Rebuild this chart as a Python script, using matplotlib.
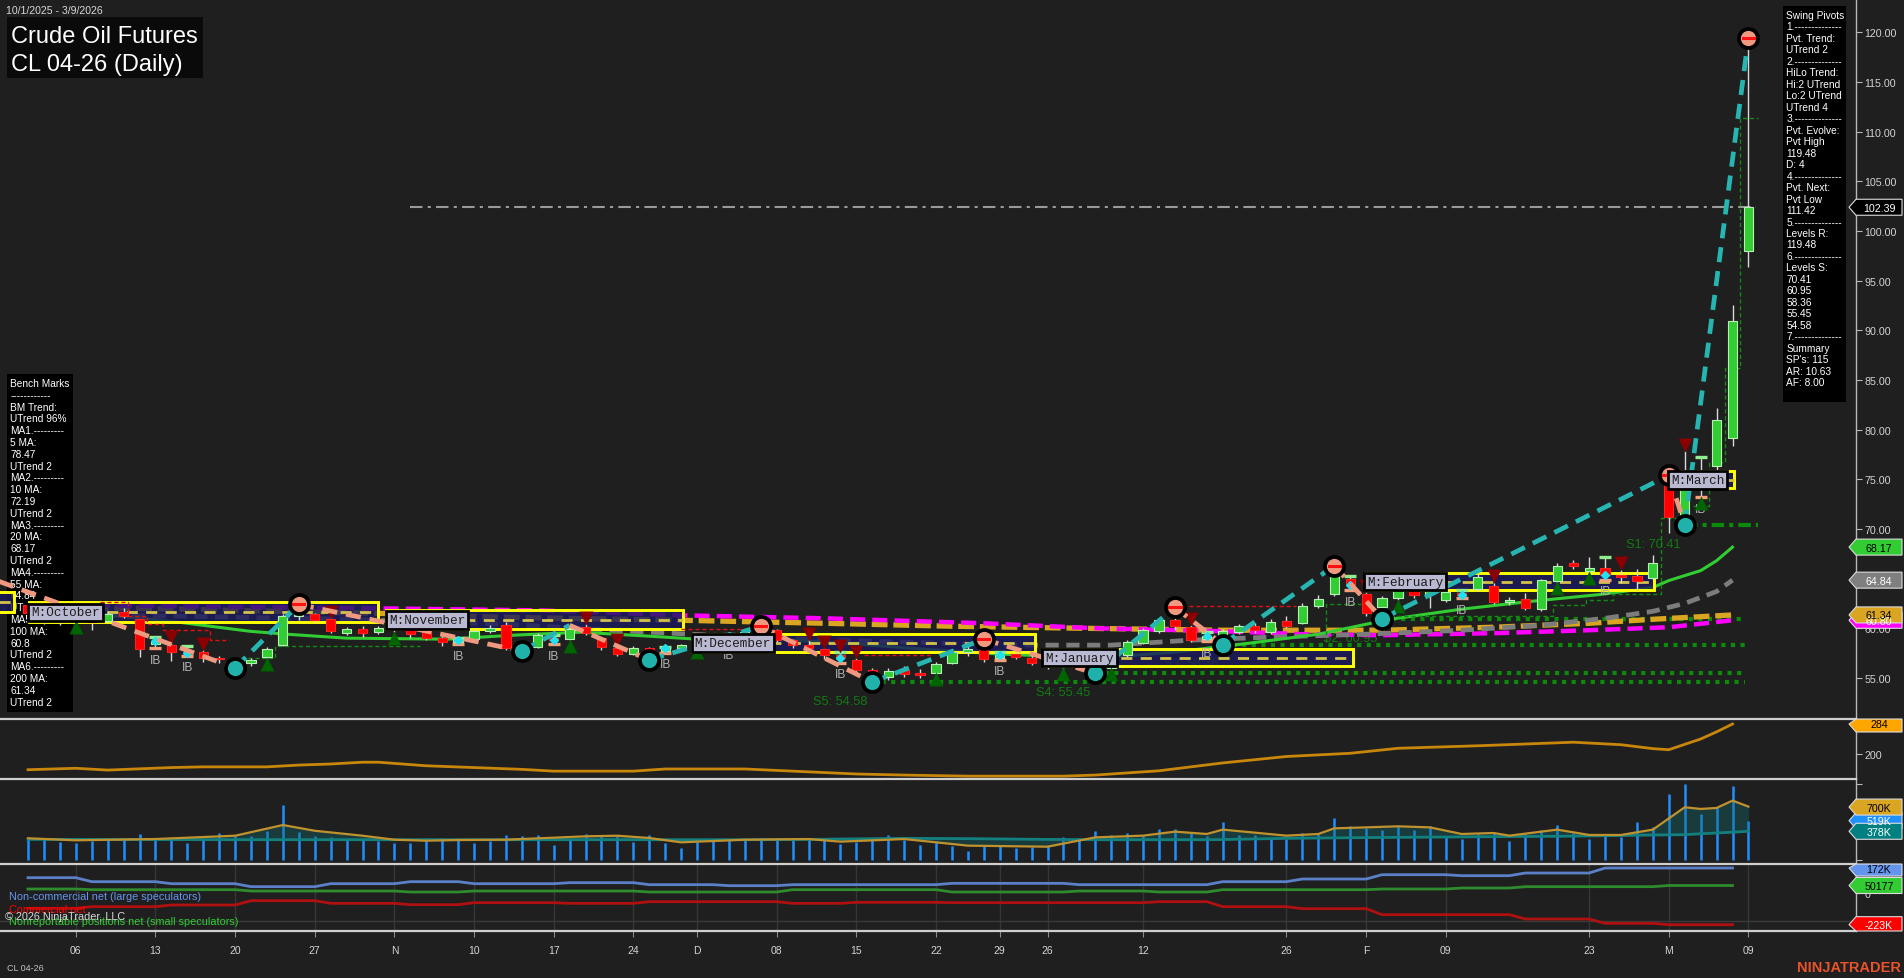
import numpy as np
import matplotlib
matplotlib.use('Agg')
import matplotlib.pyplot as plt
from matplotlib.patches import Rectangle, Polygon
from matplotlib.transforms import Affine2D

plt.rcParams['font.family'] = ['Liberation Sans', 'DejaVu Sans']

W, H = 1904, 979
BG = '#1f1f1f'

# ---------------- data ----------------
opens = [62.3, 61.5, 60.7, 61.0, 60.9, 60.7, 61.6, 60.9, 58.4, 58.3, 57.6, 57.6, 57.0, 56.9, 56.5, 57.1, 58.3, 61.2,
         61.4, 60.9, 59.5, 59.9, 59.6, 60.0, 60.1, 59.8, 59.0, 58.6, 58.9, 59.7, 60.3, 58.0, 58.1, 59.0, 58.9, 60.1,
         59.0, 58.0, 57.4, 58.0, 57.7, 58.0, 58.4, 59.0, 58.6, 59.2, 59.6, 59.8, 58.8, 58.3, 57.9, 57.3, 56.8, 55.8,
         55.1, 55.8, 55.5, 55.5, 56.5, 57.6, 57.9, 57.0, 57.4, 57.0, 56.6, 56.4, 56.9, 56.0, 56.0, 57.3, 58.5, 59.7,
         60.8, 60.1, 58.9, 59.0, 59.6, 60.2, 59.6, 60.7, 60.5, 62.2, 63.4, 65.0, 63.4, 62.1, 63.0, 64.3, 63.4, 62.8,
         63.5, 63.9, 64.3, 62.6, 62.9, 61.9, 64.8, 66.6, 65.8, 66.1, 65.4, 65.3, 65.1, 75.4, 71.0, 74.6, 76.3, 79.2, 98.0]
highs = [62.6, 61.8, 61.4, 61.6, 61.3, 61.7, 62.0, 60.9, 59.1, 58.5, 58.2, 57.8, 57.2, 57.1, 57.0, 58.1, 61.4, 62.4,
         61.5, 61.0, 60.1, 60.2, 60.2, 60.4, 60.2, 60.2, 59.4, 59.0, 59.9, 60.3, 60.6, 58.4, 59.5, 59.3, 60.3, 60.4,
         59.1, 58.2, 58.2, 58.1, 58.1, 58.4, 59.2, 59.3, 59.4, 59.9, 60.2, 59.9, 58.9, 58.8, 58.0, 57.6, 57.0, 56.0,
         56.0, 56.2, 55.9, 56.6, 57.9, 58.2, 58.9, 57.6, 57.8, 57.3, 57.0, 57.2, 57.1, 56.4, 57.5, 58.8, 60.0, 61.0,
         62.1, 60.3, 59.6, 59.9, 60.4, 60.5, 60.9, 61.2, 62.5, 63.3, 66.3, 65.3, 63.6, 63.2, 64.8, 64.6, 64.0, 63.9,
         63.8, 65.5, 64.6, 63.1, 63.5, 65.0, 66.6, 66.9, 67.2, 67.2, 65.9, 66.0, 67.4, 75.8, 77.8, 77.2, 82.2, 92.5,
         119.48]
lows = [61.2, 60.4, 60.3, 60.7, 59.8, 60.6, 61.0, 57.1, 58.0, 56.7, 57.2, 56.6, 56.5, 56.0, 56.2, 56.9, 58.2, 60.8,
        60.6, 59.5, 59.3, 59.1, 59.4, 59.6, 59.0, 58.8, 58.2, 58.4, 58.8, 59.5, 57.8, 57.7, 58.0, 58.4, 58.8, 59.3,
        57.8, 57.2, 57.3, 56.8, 57.5, 57.8, 58.2, 58.3, 58.5, 59.0, 59.4, 58.6, 58.0, 57.6, 56.9, 56.5, 55.6, 54.58,
        54.8, 55.1, 55.0, 55.4, 56.4, 57.2, 56.6, 56.8, 56.9, 56.3, 55.9, 55.9, 55.8, 55.45, 55.9, 57.1, 58.4, 59.5,
        59.8, 58.6, 58.7, 58.36, 59.4, 59.5, 59.4, 60.0, 60.4, 62.0, 63.2, 63.8, 61.2, 60.95, 62.8, 63.0, 62.0, 62.6,
        63.0, 63.7, 62.4, 62.3, 61.8, 61.7, 64.6, 66.0, 65.6, 64.9, 64.6, 63.8, 64.9, 69.6, 70.41, 73.2, 75.8, 78.3,
        96.4]
closes = [61.5, 60.7, 60.9, 61.3, 60.6, 61.4, 61.2, 57.9, 58.7, 57.6, 57.5, 57.0, 56.9, 56.5, 56.8, 57.9, 61.2, 61.5,
          60.8, 59.7, 59.9, 59.5, 60.0, 60.1, 59.4, 59.0, 58.6, 58.8, 59.7, 60.0, 58.0, 58.1, 59.3, 58.8, 59.9, 59.5,
          58.1, 57.4, 58.0, 57.5, 58.0, 58.3, 59.0, 58.5, 59.2, 59.6, 59.9, 58.8, 58.3, 58.0, 57.3, 57.0, 55.8, 55.2,
          55.7, 55.4, 55.3, 56.4, 57.6, 57.9, 56.9, 57.3, 57.1, 56.5, 56.2, 56.9, 56.0, 55.9, 57.3, 58.6, 59.8, 60.8,
          60.2, 58.8, 59.2, 59.7, 60.2, 59.8, 60.6, 60.2, 62.2, 62.9, 65.3, 64.4, 61.5, 63.0, 64.5, 63.3, 63.7, 63.6,
          63.3, 65.2, 62.6, 62.8, 62.0, 64.9, 66.3, 66.3, 66.1, 65.4, 65.2, 64.8, 66.6, 71.2, 74.5, 74.9, 81.0, 90.9,
          102.39]

# x tick labels (bar index of first bar of each labelled period)
tick_idx = [3, 8, 13, 18, 23, 28, 33, 38, 42, 47, 52, 57, 61, 64, 70, 79, 84, 89, 98, 103, 108]
tick_lbl = ['06', '13', '20', '27', 'N', '10', '17', '24', 'D', '08', '15', '22', '29', '26', '12', '26', 'F', '09',
            '23', 'M', '09']

# moving averages (knots: bar index, value)
ma20_idx = [0, 4.7, 9.5, 13.9, 16.2, 20, 26.3, 30.5, 34.7, 39, 42, 47, 52, 57, 61, 64, 68, 72, 76.7, 81, 85.5, 89.9,
            94.3, 98.7, 102, 103, 105, 106, 107]
ma20_val = [62.0, 61.4, 60.6, 59.7, 59.4, 59.0, 58.9, 59.3, 59.6, 59.2, 58.9, 58.9, 58.4, 57.8, 57.4, 57.2, 57.1, 57.6,
            58.5, 59.4, 60.9, 61.9, 62.7, 63.4, 64.1, 64.8, 65.8, 66.8, 68.17]
ma55_idx = [0, 10, 20, 30, 39, 47, 55, 62, 68, 73, 78, 84, 90, 95, 99, 102, 104, 106, 107]
ma55_val = [61.4, 61.2, 60.9, 60.4, 59.6, 59.0, 58.6, 58.3, 58.3, 58.8, 59.1, 59.4, 59.8, 60.3, 61.0, 61.7, 62.5,
            63.7, 64.84]
ma100_idx = [0, 10, 22, 32, 41, 50, 60, 67, 75, 80, 85, 92, 98, 103, 107]
ma100_val = [62.4, 62.2, 62.0, 61.8, 61.3, 61.0, 60.5, 60.0, 59.7, 59.4, 59.3, 59.5, 59.8, 60.1, 60.8]
ma200_idx = [0, 10, 22, 30, 41, 50, 58, 66, 75, 85, 92, 98, 102, 107]
ma200_val = [62.2, 61.9, 61.5, 61.1, 60.8, 60.5, 60.2, 60.0, 59.8, 59.8, 60.1, 60.5, 60.9, 61.34]

# swing pivots (first point is the prior high off the left edge)
sw_idx = [-4, 13, 17, 31, 34, 39, 46, 53, 60, 67, 72, 75, 82, 85, 103, 104, 108]
sw_val = [66.0, 56.0, 62.4, 57.7, 60.3, 56.8, 60.2, 54.58, 58.9, 55.45, 62.1, 58.36, 66.3, 60.95, 75.4, 70.41, 119.48]
sw_marked = [False, True, True, True, False, True, True, True, True, True, True, True, True, True, True, True, True]

up_tri_idx = [3, 15, 23, 34, 42, 57, 65, 68, 86, 96, 98, 105, 106]
dn_tri_idx = [9, 11, 19, 35, 37, 49, 50, 51, 52, 73, 84, 92, 100, 104]
ib_idx = [8, 10, 27, 33, 40, 44, 51, 61, 74, 83, 90, 99, 105]

# support levels
s_names = ['S5', 'S4', 'S3', 'S2', 'S1']
s_vals = [54.58, 55.45, 58.36, 60.95, 70.41]
s_from = [53, 67, 75, 85, 104]

# monthly boxes
month_lbl = ['', 'M:October', 'M:November', 'M:December', 'M:January', 'M:February', 'M:March']
box_start = [-30, 0.05, 22.5, 41.7, 63.7, 83.9, 103.0]
box_end = [-0.9, 22.0, 41.1, 63.2, 83.2, 102.1, 107.1]
box_top = [63.6, 62.6, 61.8, 59.4, 57.9, 65.6, 75.8]
box_bot = [61.6, 60.6, 59.9, 57.6, 56.2, 63.8, 74.1]

# trailing stop step lines
red_stops = [
    ([4.5, 6.3, 6.3, 7.5, 7.5, 8.5, 8.5, 11.4, 11.4, 12.6], [62.6, 62.6, 61.2, 61.2, 60.4, 60.4, 59.8, 59.8, 58.8, 58.8]),
    ([41, 46], [59.9, 59.9]),
    ([52.5, 56.6], [57.3, 57.3]),
    ([72, 79.6], [62.2, 62.2]),
]
green_stops = [
    ([13.4, 15.5, 15.5, 24.6], [57.0, 57.0, 58.2, 58.2]),
    ([81.5, 81.5, 83.7], [58.6, 62.4, 62.4]),
    ([85.5, 95.7, 95.7, 97.8, 97.8, 99.5, 99.5, 102.5, 102.5, 102.5, 104.0],
     [61.2, 61.2, 62.3, 62.3, 62.8, 62.8, 63.4, 63.4, 63.4, 71.1, 71.1]),
    ([104.5, 105.5, 105.5, 106.5, 106.5, 107.5, 107.5, 108.6], [72.3, 72.3, 76.7, 76.7, 86.2, 86.2, 111.42, 111.42]),
]

# ATR-type line
atr_idx = [0, 3, 5, 9, 11, 15, 17, 19, 21, 22, 25, 28, 31, 33, 38, 40, 45, 49, 52, 55, 59, 65, 67, 71, 75, 79, 83,
           86, 91, 97, 100, 102, 103, 105, 106, 107]
atr_val = [156, 160, 155, 162, 164, 164, 169, 172, 177, 177, 167, 162, 157, 152, 152, 158, 158, 150, 144, 141, 138,
           138, 141, 153, 175, 193, 202, 216, 223, 233, 226, 215, 212, 242, 262, 284]

# volume (thousands)
volume = [285, 285, 240, 222, 253, 285, 266, 342, 280, 266, 222, 266, 355, 319, 319, 382, 728, 373, 319, 302,
          280, 258, 253, 222, 222, 293, 285, 266, 222, 253, 329, 319, 329, 196, 280, 342, 329, 333, 240, 329,
          222, 160, 240, 248, 266, 266, 258, 266, 266, 293, 266, 213, 240, 293, 329,
          266, 196, 231, 187, 120, 182, 187, 151, 165, 196, 306, 293, 382, 333, 351, 311, 408, 408, 364, 320,
          501, 333, 329, 293, 275, 355, 346, 555, 453, 423, 391, 448, 391, 448, 306, 275, 342, 364, 244, 355,
          399, 466, 355, 275, 320, 302, 501, 440, 874, 1007, 608, 697, 980, 519]
vma_idx = [0, 3, 8, 13, 16, 18, 21, 23, 25, 27, 30, 35, 37, 39, 41, 45, 49, 51, 55, 59, 64, 67, 70, 72, 74, 75, 79,
           81, 82, 84, 86, 88, 90, 92, 93, 96, 98, 100, 102, 104, 105, 106, 107, 108]
vma_fast = [285, 258, 275, 319, 461, 385, 319, 266, 253, 262, 266, 311, 319, 289, 231, 266, 275, 240, 275, 187, 173,
            297, 320, 373, 342, 400, 320, 342, 417, 430, 444, 430, 342, 355, 320, 400, 329, 329, 400, 697, 675, 688,
            786, 706]
vma_slow = [270, 270, 268, 266, 266, 266, 266, 266, 266, 266, 266, 266, 266, 266, 266, 266, 270, 275, 284, 280, 270,
            266, 266, 266, 266, 268, 284, 288, 290, 294, 297, 300, 303, 306, 308, 311, 316, 322, 328, 333, 345, 355,
            366, 378]

# COT net positions (thousands), one value per bar up to Mar 6
cot_large = [104.6] * 4 + [76.8] * 5 + [62.8] * 5 + [42.0] * 5 + [62.8] * 5 + [76.8] * 4 + [62.8] * 6 + \
            [69.8] * 5 + [55.9] * 5 + [48.9] * 4 + [55.9] * 10 + [65.2] * 8 + [55.9] * 9 + [76.8] * 5 + \
            [95.3] * 5 + [125.5] * 5 + [118.6] * 4 + [137.2] * 5 + [172.0] * 9
cot_small = [25.7] * 4 + [21.0] * 10 + [11.7] * 10 + [4.8] * 4 + [11.7] * 11 + [4.8] * 9 + [21.0] * 10 + \
            [4.8] * 8 + [11.7] * 5 + [4.8] * 4 + [21.0] * 10 + [25.7] * 5 + [32.6] * 4 + [42.0] * 9 + [50.2] * 5
cot_comm = [-109.0] * 4 + [-97.5] * 5 + [-85.8] * 5 + [-55.7] * 5 + [-74.2] * 5 + [-83.5] * 4 + [-69.6] * 6 + \
           [-74.2] * 5 + [-62.6] * 9 + [-74.2] * 4 + [-67.2] * 6 + [-69.6] * 13 + [-62.6] * 4 + [-97.5] * 5 + \
           [-111.4] * 5 + [-153.2] * 9 + [-183.4] * 5 + [-213.6] * 4 + [-223.0] * 5

bench_lines = ["Bench Marks", "------------", "BM Trend:", "UTrend 96%", "MA1.---------", "5 MA:", "78.47",
               "UTrend 2", "MA2.---------", "10 MA:", "72.19", "UTrend 2", "MA3.---------", "20 MA:", "68.17",
               "UTrend 2", "MA4.---------", "55 MA:", "64.84", "UTrend 2", "MA5.---------", "100 MA:", "60.8",
               "UTrend 2", "MA6.---------", "200 MA:", "61.34", "UTrend 2"]
swing_lines = ["Swing Pivots", "1.--------------", "Pvt. Trend:", "UTrend 2", "2.--------------", "HiLo Trend:",
               "Hi:2 UTrend", "Lo:2 UTrend", "UTrend 4", "3.--------------", "Pvt. Evolve:", "Pvt High", "119.48",
               "D: 4", "4.--------------", "Pvt. Next:", "Pvt Low", "111.42", "5.--------------", "Levels R:",
               "119.48", "6.--------------", "Levels S:", "70.41", "60.95", "58.36", "55.45", "54.58",
               "7.--------------", "Summary", "SP's: 115", "AR: 10.63", "AF: 8.00"]

last_price = 102.39

# ---------------- figure ----------------
fig = plt.figure(figsize=(W / 100, H / 100), dpi=100, facecolor=BG)
PX = Affine2D().scale(1 / W, -1 / H).translate(0, 1) + fig.transFigure

AX_RIGHT = 1856
X0, DX = 28.0, 15.93
XMIN, XMAX = (0 - X0) / DX, (AX_RIGHT - X0) / DX


def make_ax(top, bottom):
    a = fig.add_axes([0, 1 - bottom / H, AX_RIGHT / W, (bottom - top) / H])
    a.set_facecolor(BG)
    a.set_xlim(XMIN, XMAX)
    for s in ['left', 'bottom', 'top']:
        a.spines[s].set_visible(False)
    a.spines['right'].set_color('#b8b8b8')
    a.spines['right'].set_linewidth(1)
    a.yaxis.tick_right()
    a.tick_params(axis='y', colors='#b8b8b8', labelcolor='#d4d4d4', labelsize=7.7, length=4, pad=2)
    a.set_xticks([])
    return a


ax = make_ax(0, 720)
ax_atr = make_ax(720, 780)
ax_vol = make_ax(780, 865)
ax_cot = make_ax(865, 932)
for a in (ax_atr, ax_vol, ax_cot):
    a.spines['top'].set_visible(True)
    a.spines['top'].set_color('#cfcfcf')
    a.spines['top'].set_linewidth(1.6)
ax_cot.spines['bottom'].set_visible(True)
ax_cot.spines['bottom'].set_color('#cfcfcf')
ax_cot.spines['bottom'].set_linewidth(1.6)

ax.set_ylim(50.86, 123.36)
ax.set_yticks(np.arange(55, 121, 5))
ax.set_yticklabels([f"{v:.2f}" for v in np.arange(55, 121, 5)])
ax_atr.set_ylim(130, 298)
ax_atr.set_yticks([200])
ax_atr.set_yticklabels(['200'])
ax_vol.set_ylim(-57, 1073)
ax_vol.set_yticks([0, 1000])
ax_vol.set_yticklabels(['', ''])
ax_cot.set_ylim(-267, 200)
ax_cot.set_yticks([0])
ax_cot.set_yticklabels(['0'])

# ---------------- side panels (under chart drawings) ----------------
ax.add_patch(Rectangle((7, 375), 66, 338, transform=PX, facecolor='#000000', edgecolor='none', zorder=1.2,
                       clip_on=False))
for k, t in enumerate(bench_lines):
    ax.text(10.5, 384 + k * 11.8, t, transform=PX, color='white', fontsize=7.3, va='center', ha='left',
            zorder=1.3, clip_on=False)
ax.add_patch(Rectangle((1783, 7), 63, 396, transform=PX, facecolor='#000000', edgecolor='none', zorder=1.2,
                       clip_on=False))
for k, t in enumerate(swing_lines):
    ax.text(1786.5, 15.7 + k * 11.49, t, transform=PX, color='white', fontsize=7.3, va='center', ha='left',
            zorder=1.3, clip_on=False)

# ---------------- main price panel ----------------
xi = np.arange(len(opens))
O, Hh, L, C = map(np.asarray, (opens, highs, lows, closes))

# moving averages
ax.plot(ma200_idx, ma200_val, color='#daa520', lw=3.8, ls=(0, (3.0, 1.1)), zorder=2.2)
ax.plot(ma100_idx, ma100_val, color='#ff00ff', lw=3.2, ls=(0, (3.4, 1.6)), zorder=2.3)
ax.plot(ma55_idx, ma55_val, color='#7c7c7c', lw=3.4, ls=(0, (2.8, 1.6)), zorder=2.4)
ax.plot(ma20_idx, ma20_val, color='#32cd32', lw=2.2, zorder=2.5)

# support dotted lines
for nm, v, s in zip(s_names, s_vals, s_from):
    if nm == 'S1':
        ax.plot([s, 108.6], [v, v], color='#0b8a0b', lw=3.0, ls=(0, (3, 1.2, 1, 1.2)), zorder=2.1)
    else:
        ax.plot([s, 107.8], [v, v], color='#0b8a0b', lw=3.0, ls=(0, (1, 1.3)), zorder=2.1)
    ax.text(s - 2, v - 1.9, f"{nm}: {v:.2f}", color='#137a13', fontsize=9.2, ha='center', va='center', zorder=2.1)

# monthly boxes
for lbl, a0, a1, top, bot in zip(month_lbl, box_start, box_end, box_top, box_bot):
    ax.add_patch(Rectangle((a0, bot), a1 - a0, top - bot, facecolor='#1b1b5e', edgecolor='#ffff00', lw=2.0,
                           alpha=0.82, zorder=3))
    ax.add_patch(Rectangle((a0, bot), a1 - a0, top - bot, facecolor='none', edgecolor='#ffff00', lw=2.0, zorder=3.1))
    ax.plot([a0, a1], [(top + bot) / 2] * 2, color='#d2c24a', lw=2.0, ls=(0, (4, 3)), zorder=3.1)
    if lbl:
        ax.text(a0 + 0.15, (top + bot) / 2, lbl, family=['Liberation Mono', 'DejaVu Sans Mono'], fontsize=9.2,
                color='#1c1c1c', ha='left', va='center', zorder=7,
                bbox=dict(boxstyle='square,pad=0.22', facecolor='#b9b9d2', edgecolor='black', lw=2.0))

# trailing stops
for xs, ys in red_stops:
    ax.plot(xs, ys, color='#dd1111', lw=1.0, ls=(0, (3, 2)), zorder=3.5)
for xs, ys in green_stops:
    ax.plot(xs, ys, color='#138a13', lw=1.0, ls=(0, (3, 2)), zorder=3.5)

# last price line
ax.plot([24, 108.5], [last_price, last_price], color='#9a9a9a', lw=1.5, ls=(0, (6, 2.5, 1.5, 2.5)), zorder=2)

# candles
ax.vlines(xi, L, Hh, color='#d9d9d9', lw=1.0, zorder=4)
up = C >= O
blo = np.minimum(O, C)
bh = np.maximum(np.abs(C - O), 0.12)
ax.bar(xi[up], bh[up], bottom=blo[up], width=0.58, color='#32cd32', edgecolor='#b8f0b8', lw=0.8, zorder=5)
ax.bar(xi[~up], bh[~up], bottom=blo[~up], width=0.58, color='#ff0000', edgecolor='#ff2020', lw=0.8, zorder=5)

# inside-bar markers
for i in ib_idx:
    ax.hlines(Hh[i], i - 0.38, i + 0.38, color='#90ee90', lw=2.4, zorder=5.2)
    ax.hlines(L[i], i - 0.38, i + 0.38, color='#f4a07a', lw=2.4, zorder=5.2)
    ax.plot(i, C[i], 'D', color='#22e0f0', ms=4, zorder=5.3)
    ax.text(i, L[i] - 1.15, 'IB', color='#b4b4b4', fontsize=8.6, ha='center', va='center', zorder=5.2)

# triangles
ax.scatter(up_tri_idx, L[up_tri_idx] - 0.55, marker='^', s=100, color='#006400', zorder=5.4, linewidths=0)
ax.scatter(dn_tri_idx, Hh[dn_tri_idx] + 0.65, marker='v', s=100, color='#8b0000', zorder=5.4, linewidths=0)

# swing lines
for k in range(len(sw_idx) - 1):
    rising = sw_val[k + 1] > sw_val[k]
    ax.plot(sw_idx[k:k + 2], sw_val[k:k + 2], color='#26b5b0' if rising else '#ef9a80', lw=3.4,
            ls=(0, (3.2, 1.9)), zorder=6)
# swing circles
for k in range(1, len(sw_idx)):
    if not sw_marked[k]:
        continue
    is_high = sw_val[k] > sw_val[k - 1]
    ax.scatter([sw_idx[k]], [sw_val[k]], s=270, color='black', zorder=6.5, linewidths=0)
    ax.scatter([sw_idx[k]], [sw_val[k]], s=120, color='#ef9a80' if is_high else '#20b2aa', zorder=6.6,
               linewidths=0)
    if is_high:
        ax.plot([sw_idx[k] - 0.35, sw_idx[k] + 0.35], [sw_val[k], sw_val[k]], color='#ff1010', lw=2.2, zorder=6.7)

# ---------------- ATR panel ----------------
ax_atr.plot(atr_idx, atr_val, color='#c8860b', lw=2.0, zorder=3)

# ---------------- volume panel ----------------
ax_vol.vlines(xi, 0, volume, color='#1e90ff', lw=1.8, zorder=2)
ax_vol.fill_between(vma_idx, vma_fast, vma_slow, color='#127070', alpha=0.35, lw=0, zorder=2.5)
ax_vol.plot(vma_idx, vma_slow, color='#138080', lw=2.0, zorder=3)
ax_vol.plot(vma_idx, vma_fast, color='#c0922e', lw=1.6, zorder=3.2)

# ---------------- COT panel ----------------
cx = np.arange(len(cot_large))
ax_cot.set_xticks(tick_idx)
ax_cot.set_xticklabels(tick_lbl)
ax_cot.tick_params(axis='x', colors='#8a8a8a', labelcolor='#d4d4d4', labelsize=7.5, length=4, pad=6)
ax_cot.grid(axis='x', color='#363636', lw=1)
ax_cot.axhline(-200, color='#3a3a3a', lw=1, zorder=1)
ax_cot.plot(cx, cot_large, color='#5b80c8', lw=2.0, zorder=3)
ax_cot.plot(cx, cot_small, color='#2e8b2e', lw=2.0, zorder=3)
ax_cot.plot(cx, cot_comm, color='#b01010', lw=2.0, zorder=3)
ax_cot.text(8.6, 897, 'Non-commercial net (large speculators)', transform=PX, color='#6495ed', fontsize=7.8,
            va='center', ha='left', zorder=5)
ax_cot.text(8.6, 910, 'Commercial net', transform=PX, color='#ff0000', fontsize=7.8, va='center', ha='left',
            zorder=5)
ax_cot.text(8.6, 922, 'Nonreportable positions net (small speculators)', transform=PX, color='#32cd32',
            fontsize=7.8, va='center', ha='left', zorder=5)
ax_cot.text(4.6, 917.5, '\u00a9 2026 NinjaTrader, LLC', transform=PX, color='#d8d8d8', fontsize=7.8, va='center',
            ha='left', zorder=6)

# ---------------- titles / corner texts ----------------
fig.text(6 / W, 1 - 11 / H, '10/1/2025 - 3/9/2026', color='#d8d8d8', fontsize=7.6, va='center', ha='left')
fig.patches.append(Rectangle((7, 18), 196, 61, transform=PX, facecolor='#0a0a0a', edgecolor='none'))
fig.text(11 / W, 1 - 43 / H, 'Crude Oil Futures', color='white', fontsize=17, va='baseline', ha='left')
fig.text(11 / W, 1 - 70.5 / H, 'CL 04-26 (Daily)', color='white', fontsize=17, va='baseline', ha='left')
fig.text(7 / W, 1 - 969 / H, 'CL 04-26', color='#c4c4c4', fontsize=6.5, va='center', ha='left')
fig.text(1901 / W, 1 - 968 / H, 'NINJATRADER', color='#e8532b', fontsize=10.5, weight='bold', va='center',
         ha='right')


# ---------------- right-edge value flags ----------------
def flag(axis, value, fc, tc, text, top, bottom):
    yd = axis.transData.transform((0, value))[1]
    y = H - yd
    hh = 8
    t, b = max(y - hh, top), min(y + hh, bottom)
    pts = [(1849, min(max(y, top), bottom)), (1856, t), (1902, t), (1902, b), (1856, b)]
    fig.patches.append(Polygon(pts, closed=True, transform=PX, facecolor=fc, edgecolor='#dcdcdc', lw=0.8))
    fig.texts.append(matplotlib.text.Text(1879 / W, 1 - (y + 0.5) / H, text, color=tc, fontsize=7.7, ha='center',
                                          va='center', transform=fig.transFigure, figure=fig))


flag(ax, last_price, '#000000', 'white', '102.39', 0, 720)
flag(ax, 60.80, '#ff00ff', 'white', '60.80', 0, 720)
flag(ax, 61.34, '#daa520', 'black', '61.34', 0, 720)
flag(ax, 64.84, '#7f7f7f', 'white', '64.84', 0, 720)
flag(ax, 68.17, '#32cd32', 'black', '68.17', 0, 720)
flag(ax_atr, 284, '#ffa500', 'black', '284', 720, 780)
flag(ax_vol, 519, '#1e90ff', 'white', '519K', 780, 865)
flag(ax_vol, 700, '#daa520', 'black', '700K', 780, 865)
flag(ax_vol, 378, '#008080', 'white', '378K', 780, 865)
flag(ax_cot, 172, '#6495ed', 'black', '172K', 865, 932)
flag(ax_cot, 50.177, '#32cd32', 'black', '50177', 865, 932)
flag(ax_cot, -223, '#ff0000', 'white', '-223K', 865, 932)

fig.savefig('out.png', dpi=100, facecolor=BG)
